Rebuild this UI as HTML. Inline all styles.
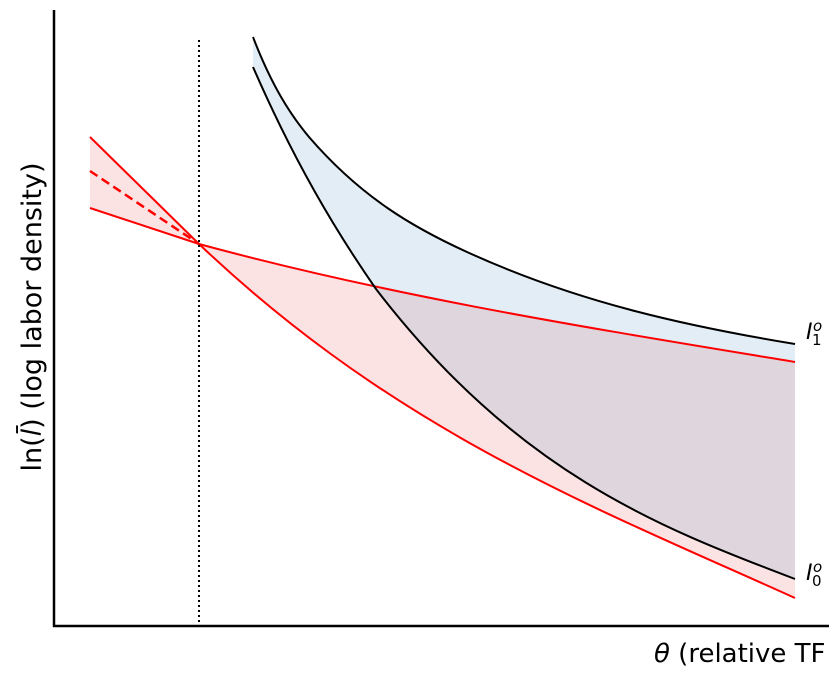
<!DOCTYPE html>
<html><head><style>
body{margin:0;background:#fff;width:839px;height:677px;overflow:hidden;font-family:"DejaVu Sans","Liberation Sans",sans-serif}
</style></head><body>
<svg width="839" height="677" viewBox="0 0 839 677" xmlns="http://www.w3.org/2000/svg">
<!-- pink fill between red curves -->
<path d="M90,137 L199,244 C398,433 596,508 795,598 L795,362 C596,329 398,298 199,244 L90,208 Z" fill="rgba(230,60,60,0.14)" stroke="none"/>
<!-- blue fill between black curves -->
<path d="M253,37 C271.7,85.6 290.3,114.6 309,137 C361.7,198 414.3,228 467,252 C576.3,302 685.7,326 795,344 L795,579 C655,526 516,471 376,289 C335,230 294,161 253,67 Z" fill="rgba(80,140,190,0.16)" stroke="none"/>
<!-- red lines -->
<path d="M90,137 L199,244 C398,433 596,508 795,598" fill="none" stroke="#f00" stroke-width="2"/>
<path d="M90,208 L199,244 C398,298 596,329 795,362" fill="none" stroke="#f00" stroke-width="2"/>
<line x1="90" y1="171" x2="199" y2="244" stroke="#f00" stroke-width="2.5" stroke-dasharray="9,5"/>
<!-- black curves -->
<path d="M253,37 C271.7,85.6 290.3,114.6 309,137 C361.7,198 414.3,228 467,252 C576.3,302 685.7,326 795,344" fill="none" stroke="#000" stroke-width="2"/>
<path d="M253,67 C294,161 335,230 376,289 C516,471 655,526 795,579" fill="none" stroke="#000" stroke-width="2"/>
<!-- dotted vertical -->
<line x1="199" y1="40" x2="199" y2="626" stroke="#000" stroke-width="2" stroke-dasharray="2,3"/>
<!-- axes -->
<line x1="54" y1="10" x2="54" y2="627" stroke="#000" stroke-width="2.5"/>
<line x1="53" y1="626" x2="829" y2="626" stroke="#000" stroke-width="2.5"/>
<!-- labels -->
<text x="806" y="339" font-size="22" font-style="italic">I</text>
<text x="813" y="331" font-size="15" font-style="italic">o</text>
<text x="812" y="345" font-size="15">1</text>
<text x="806" y="580" font-size="22" font-style="italic">I</text>
<text x="813" y="572" font-size="15" font-style="italic">o</text>
<text x="812" y="586" font-size="15">0</text>
<text x="654" y="662" font-size="26"><tspan font-style="italic">θ</tspan> (relative TF</text>
<text transform="translate(41,317) rotate(-90)" text-anchor="middle" font-size="27">ln(<tspan font-style="italic">l̄</tspan>) (log labor density)</text>
</svg>
</body></html>
